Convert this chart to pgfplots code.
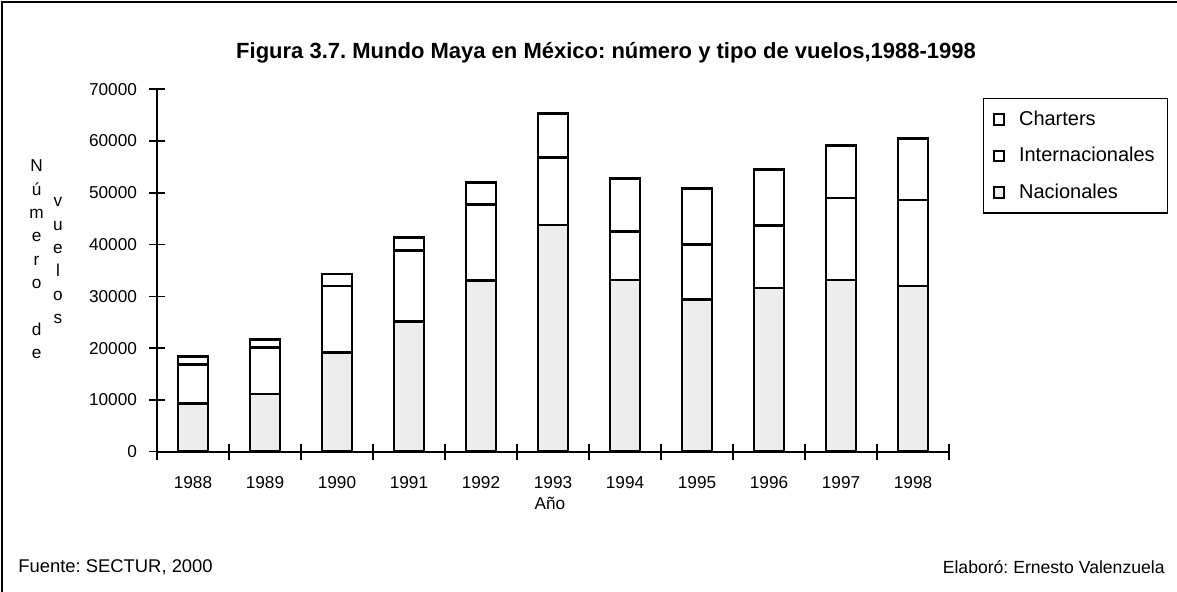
\documentclass[border=0pt]{standalone}
\usepackage{fontspec}
\setmainfont{Liberation Sans}
\usepackage{pgfplots}
\pgfplotsset{compat=1.18}
\frenchspacing
\begin{document}
\begin{tikzpicture}
\path[use as bounding box] (0,0) rectangle (588.5pt,296pt);
\draw[line width=0.6pt] (1pt,0pt) -- (1pt,295pt) -- (588.5pt,295pt);
\begin{axis}[
  at={(78.5pt,70.15pt)}, anchor=south west,
  scale only axis, width=396pt, height=181.2pt,
  xmin=-0.5, xmax=10.5, ymin=0, ymax=70000,
  axis x line*=bottom, axis y line*=left,
  axis line style={line width=0.9pt, -},
  ybar stacked, bar width=15pt,
  scaled y ticks=false,
  tick align=center,
  major tick length=8pt, minor tick length=8pt,
  tick style={line width=0.8pt, black},
  xtick={0,1,2,3,4,5,6,7,8,9,10},
  xticklabels={1988,1989,1990,1991,1992,1993,1994,1995,1996,1997,1998},
  major x tick style={draw=none},
  minor xtick={-0.5,0.5,1.5,2.5,3.5,4.5,5.5,6.5,7.5,8.5,9.5,10.5},
  ytick={0,10000,20000,30000,40000,50000,60000,70000},
  yticklabels={0,10000,20000,30000,40000,50000,60000,70000},
  xticklabel style={font=\fontsize{8.6}{10}\selectfont, yshift=-5pt},
  yticklabel style={font=\fontsize{8.6}{10}\selectfont, xshift=-2.5pt},
  xlabel={Año},
  xlabel style={at={(axis description cs:0.496,-0.1416)}, anchor=center, font=\fontsize{8.6}{10}\selectfont},
  title={Figura 3.7. Mundo Maya en México: número y tipo de vuelos,1988-1998},
  title style={at={(axis description cs:0.567,1.103)}, anchor=center, yshift=-6.5pt, font=\bfseries\fontsize{11}{13}\selectfont},
  legend image code/.code={\draw[#1, line width=1pt] (0pt,-2.6pt) rectangle (5.2pt,2.6pt);},
  reverse legend,
  legend cell align=left,
  legend style={at={(1.043,0.976)}, anchor=north west, draw=black, line width=0.6pt,
    font=\fontsize{10}{12}\selectfont, row sep=5.5pt, column sep=5pt,
    inner xsep=4.5pt, inner ysep=4pt},
]
\addplot[fill=black!7, draw=black, line width=1.4pt] coordinates {
 (0,9350) (1,11150) (2,19200) (3,25110) (4,33030) (5,43790)
 (6,33170) (7,29440) (8,31620) (9,33170) (10,32010)};
\addlegendentry{Nacionales}
\addplot[fill=white, draw=black, line width=1.4pt] coordinates {
 (0,7530) (1,8940) (2,12810) (3,13720) (4,14750) (5,13000)
 (6,9330) (7,10550) (8,12040) (9,15840) (10,16610)};
\addlegendentry{Internacionales}
\addplot[fill=white, draw=black, line width=1.4pt] coordinates {
 (0,1470) (1,1620) (2,2320) (3,2580) (4,4190) (5,8570)
 (6,10240) (7,10890) (8,10890) (9,10100) (10,11920)};
\addlegendentry{Charters}
\end{axis}
\begin{scope}[every node/.style={anchor=base, inner sep=0pt, font=\fontsize{8.6}{9}\selectfont}]
\node at (18.3pt,210pt) {N};
\node at (18.3pt,198.35pt) {ú};
\node at (18.3pt,186.7pt) {m};
\node at (18.3pt,175.05pt) {e};
\node at (18.3pt,163.4pt) {r};
\node at (18.3pt,151.75pt) {o};
\node at (18.3pt,128.45pt) {d};
\node at (18.3pt,116.8pt) {e};
\node at (29pt,192.5pt) {v};
\node at (29pt,180.9pt) {u};
\node at (29pt,169.25pt) {e};
\node at (29pt,157.6pt) {l};
\node at (29pt,145.95pt) {o};
\node at (29pt,134.3pt) {s};
\end{scope}
\node[anchor=west, inner sep=0pt, font=\fontsize{9.2}{10}\selectfont] at (9pt,12.5pt) {Fuente: SECTUR, 2000};
\node[anchor=east, inner sep=0pt, font=\fontsize{8.8}{10}\selectfont] at (582.5pt,12.5pt) {Elaboró: Ernesto Valenzuela};
\end{tikzpicture}
\end{document}
